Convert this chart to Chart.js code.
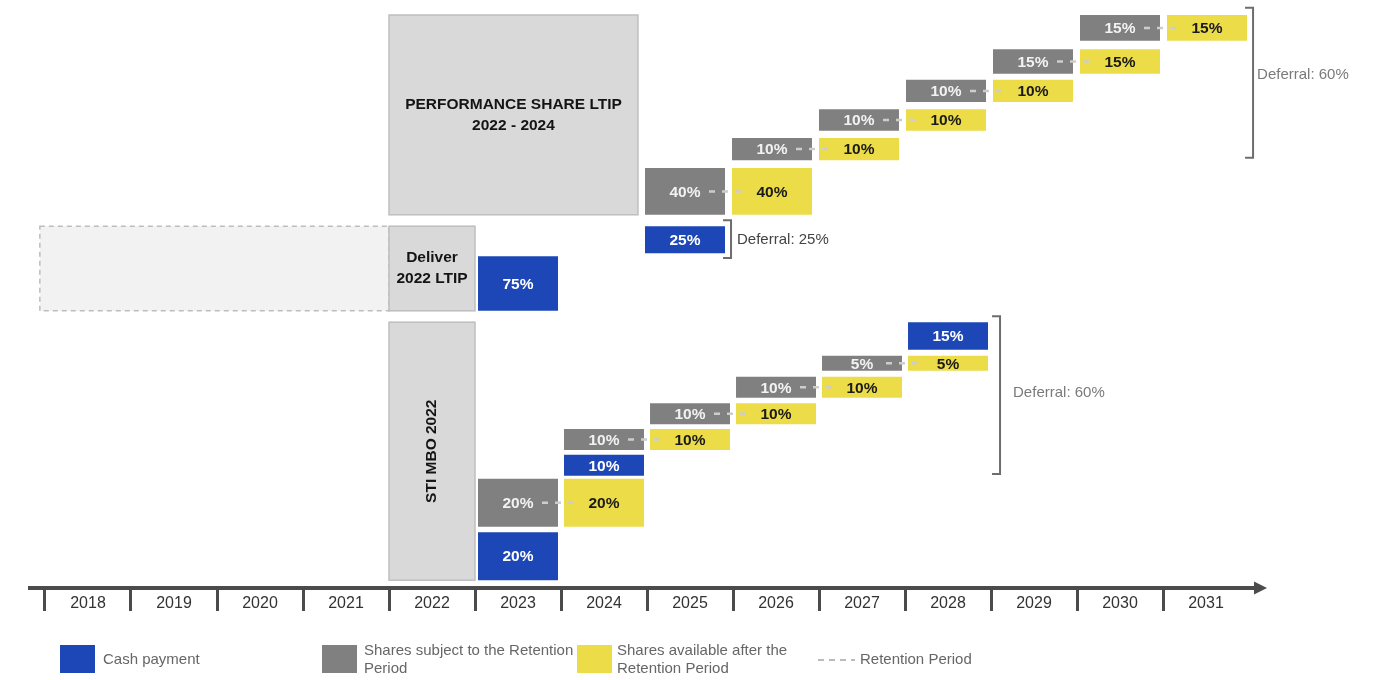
<!DOCTYPE html>
<html>

<head>
    <title>LTIP and STI deferral timeline</title>
    <script src="https://cdn.jsdelivr.net/npm/chart.js"></script>
    <style>
        body {
            margin: 0;
            background: #ffffff;
        }

        #wrap {
            width: 1379px;
            height: 680px;
        }
    </style>
</head>

<body>
    <div id="wrap"><canvas id="timeline"></canvas></div>

    <script>
        const years = [2018, 2019, 2020, 2021, 2022, 2023, 2024, 2025, 2026, 2027, 2028, 2029, 2030, 2031];

        // Performance Share LTIP 2022 - 2024: shares held one year, then available
        const ltipYears = [2025, 2026, 2027, 2028, 2029, 2030];
        const ltipRetained = [40, 10, 10, 10, 15, 15];
        const ltipAvailable = [40, 10, 10, 10, 15, 15];
        const ltipCashYears = [2025];
        const ltipCash = [25];

        // delivery of the 2022 LTIP
        const deliverCashYears = [2023];
        const deliverCash = [75];

        // STI MBO 2022
        const stiYears = [2023, 2024, 2025, 2026, 2027];
        const stiRetained = [20, 10, 10, 10, 5];
        const stiAvailable = [20, 10, 10, 10, 5];
        const stiCashYears = [2023, 2024, 2028];
        const stiCash = [20, 10, 15];

        const deferralLabels = ['Deferral: 60%', 'Deferral: 25%', 'Deferral: 60%'];

        // vertical layout of the boxes (diagram units, 0 = timeline)
        const ltipRows = [[62.2, 70], [71.3, 75], [76.2, 79.8], [81, 84.7], [85.7, 89.8], [91.2, 95.5]];
        const ltipCashRows = [[55.8, 60.3]];
        const deliverRows = [[46.2, 55.3]];
        const stiRows = [[10.2, 18.2], [23, 26.5], [27.3, 30.8], [31.7, 35.2], [36.2, 38.7]];
        const stiCashRows = [[1.3, 9.3], [18.7, 22.2], [39.7, 44.3]];

        const blue = '#1d47b6';
        const grey = '#808080';
        const yellow = '#ebdc48';
        const FONT = "'Liberation Sans', Arial, sans-serif";
        Chart.defaults.font.family = FONT;

        // one box per year column, the available shares sit one column later
        function boxes(ys, rows, shift) {
            return ys.map((y, i) => ({ x: y + 0.5 + shift, y: rows[i] }));
        }

        const programs = [
            { text: ['PERFORMANCE SHARE LTIP', '2022 - 2024'], from: 2022, to: 2024.895, rows: [62.2, 95.5] },
            { text: ['Deliver', '2022 LTIP'], from: 2022, to: 2023, rows: [46.2, 60.3] },
            { text: ['STI MBO 2022'], from: 2022, to: 2023, rows: [1.3, 44.3], vertical: true }
        ];
        const pastLtip = { from: 2017.94, to: 2022, rows: [46.2, 60.3] };

        const brackets = [
            { x: 2032.047, rows: [71.7, 96.7], labelAt: 85.5, gap: 4, color: '#7a7a7a' },
            { x: 2025.977, rows: [55, 61.3], labelAt: 58, gap: 6, color: '#444444' },
            { x: 2029.105, rows: [19, 45.3], labelAt: 32.5, gap: 13, color: '#7a7a7a' }
        ];

        // retained / available dataset pairs joined by the retention period line
        const pairs = [[1, 2], [4, 5]];

        function rectFor(sx, sy, from, to, rows) {
            const x0 = sx.getPixelForValue(from), x1 = sx.getPixelForValue(to);
            const y0 = sy.getPixelForValue(rows[1]), y1 = sy.getPixelForValue(rows[0]);
            return [x0, y0, x1 - x0, y1 - y0];
        }

        const diagram = {
            id: 'diagram',
            beforeDatasetsDraw(chart) {
                const ctx = chart.ctx, sx = chart.scales.x, sy = chart.scales.y;
                ctx.save();

                // earlier LTIP cycle, dashed
                let r = rectFor(sx, sy, pastLtip.from, pastLtip.to, pastLtip.rows);
                ctx.fillStyle = '#f2f2f2';
                ctx.fillRect(...r);
                ctx.setLineDash([5, 4]);
                ctx.strokeStyle = '#bdbdbd';
                ctx.lineWidth = 1.5;
                ctx.strokeRect(...r);
                ctx.setLineDash([]);

                programs.forEach(p => {
                    r = rectFor(sx, sy, p.from, p.to, p.rows);
                    ctx.fillStyle = '#d9d9d9';
                    ctx.fillRect(...r);
                    ctx.strokeStyle = '#bfbfbf';
                    ctx.lineWidth = 1.5;
                    ctx.strokeRect(...r);
                    const cx = r[0] + r[2] / 2, cy = r[1] + r[3] / 2;
                    ctx.fillStyle = '#141414';
                    ctx.font = 'bold 15.5px ' + FONT;
                    ctx.textAlign = 'center';
                    ctx.textBaseline = 'middle';
                    if (p.vertical) {
                        ctx.save();
                        ctx.translate(cx, cy);
                        ctx.rotate(-Math.PI / 2);
                        ctx.fillText(p.text[0], 0, 0);
                        ctx.restore();
                    } else {
                        p.text.forEach((t, i) => ctx.fillText(t, cx, cy + (i - (p.text.length - 1) / 2) * 21));
                    }
                });
                ctx.restore();
            },
            afterDatasetsDraw(chart) {
                const ctx = chart.ctx, sx = chart.scales.x, sy = chart.scales.y;
                const ds = chart.data.datasets;
                ctx.save();

                // retention period connectors
                ctx.strokeStyle = '#cdcdcd';
                ctx.lineWidth = 2.5;
                ctx.setLineDash([6, 7]);
                pairs.forEach(([gi, ai]) => {
                    const gMeta = chart.getDatasetMeta(gi).data, aMeta = chart.getDatasetMeta(ai).data;
                    gMeta.forEach((g, i) => {
                        const a = aMeta[i];
                        const y = (g.y + g.base) / 2;
                        ctx.beginPath();
                        ctx.moveTo(g.x + 24, y);
                        ctx.lineTo(a.x - 24, y);
                        ctx.stroke();
                    });
                });
                ctx.setLineDash([]);

                // percentages
                ctx.font = 'bold 15.5px ' + FONT;
                ctx.textAlign = 'center';
                ctx.textBaseline = 'middle';
                ds.forEach((d, di) => {
                    chart.getDatasetMeta(di).data.forEach((el, i) => {
                        ctx.fillStyle = d.textColor;
                        ctx.fillText(d.values[i] + '%', el.x, (el.y + el.base) / 2 + 1);
                    });
                });

                // deferral brackets
                ctx.font = '15px ' + FONT;
                ctx.textAlign = 'left';
                brackets.forEach((b, i) => {
                    const x = sx.getPixelForValue(b.x);
                    const yt = sy.getPixelForValue(b.rows[1]), yb = sy.getPixelForValue(b.rows[0]);
                    ctx.strokeStyle = '#6d6d6d';
                    ctx.lineWidth = 2;
                    ctx.beginPath();
                    ctx.moveTo(x - 8, yt);
                    ctx.lineTo(x, yt);
                    ctx.lineTo(x, yb);
                    ctx.lineTo(x - 8, yb);
                    ctx.stroke();
                    ctx.fillStyle = b.color;
                    ctx.fillText(deferralLabels[i], x + b.gap, sy.getPixelForValue(b.labelAt));
                });

                // arrow head at the end of the timeline
                const ay = sy.getPixelForValue(0);
                const ax = chart.chartArea.right;
                ctx.fillStyle = '#4b4b4b';
                ctx.beginPath();
                ctx.moveTo(ax - 8, ay - 6.5);
                ctx.lineTo(ax + 5, ay);
                ctx.lineTo(ax - 8, ay + 6.5);
                ctx.closePath();
                ctx.fill();

                // legend
                ctx.font = '15px ' + FONT;
                ctx.fillStyle = blue;
                ctx.fillRect(60, 645, 35, 28);
                ctx.fillStyle = grey;
                ctx.fillRect(322, 645, 35, 28);
                ctx.fillStyle = yellow;
                ctx.fillRect(577, 645, 35, 28);
                ctx.fillStyle = '#666666';
                ctx.fillText('Cash payment', 103, 660);
                ctx.fillText('Shares subject to the Retention', 364, 651);
                ctx.fillText('Period', 364, 669);
                ctx.fillText('Shares available after the', 617, 651);
                ctx.fillText('Retention Period', 617, 669);
                ctx.fillText('Retention Period', 860, 660);
                ctx.strokeStyle = '#bbbbbb';
                ctx.lineWidth = 2;
                ctx.setLineDash([6, 5]);
                ctx.beginPath();
                ctx.moveTo(818, 660);
                ctx.lineTo(855, 660);
                ctx.stroke();
                ctx.restore();
            }
        };

        new Chart(document.getElementById('timeline'), {
            type: 'bar',
            data: {
                datasets: [{
                    label: 'Cash payment',
                    data: [...boxes(deliverCashYears, deliverRows, 0), ...boxes(stiCashYears, stiCashRows, 0)],
                    values: [...deliverCash, ...stiCash],
                    backgroundColor: blue,
                    textColor: '#ffffff'
                }, {
                    label: 'Shares subject to the Retention Period',
                    data: boxes(stiYears, stiRows, 0),
                    values: stiRetained,
                    backgroundColor: grey,
                    textColor: '#f2f2f2'
                }, {
                    label: 'Shares available after the Retention Period',
                    data: boxes(stiYears, stiRows, 1),
                    values: stiAvailable,
                    backgroundColor: yellow,
                    textColor: '#1a1a1a'
                }, {
                    label: 'Cash payment (LTIP)',
                    xAxisID: 'xl',
                    data: boxes(ltipCashYears, ltipCashRows, 0),
                    values: ltipCash,
                    backgroundColor: blue,
                    textColor: '#ffffff'
                }, {
                    label: 'Shares subject to the Retention Period (LTIP)',
                    xAxisID: 'xl',
                    data: boxes(ltipYears, ltipRows, 0),
                    values: ltipRetained,
                    backgroundColor: grey,
                    textColor: '#f2f2f2'
                }, {
                    label: 'Shares available after the Retention Period (LTIP)',
                    xAxisID: 'xl',
                    data: boxes(ltipYears, ltipRows, 1),
                    values: ltipAvailable,
                    backgroundColor: yellow,
                    textColor: '#1a1a1a'
                }]
            },
            options: {
                responsive: true,
                maintainAspectRatio: false,
                animation: false,
                layout: {
                    padding: { left: 30, right: 117, top: 0, bottom: 0 }
                },
                datasets: {
                    bar: {
                        grouped: false,
                        categoryPercentage: 1,
                        barPercentage: 0.93,
                        maxBarThickness: 80,
                        borderWidth: 0
                    }
                },
                plugins: {
                    legend: { display: false },
                    tooltip: { enabled: false }
                },
                scales: {
                    x: {
                        type: 'linear',
                        min: 2017.8256,
                        max: 2032.151,
                        offset: false,
                        position: { y: 0 },
                        afterBuildTicks: s => {
                            s.ticks = s.ticks.filter(t => t.value >= years[0] && t.value <= years[years.length - 1]);
                        },
                        grid: {
                            display: true,
                            drawOnChartArea: false,
                            drawTicks: true,
                            tickLength: 21,
                            tickWidth: 3,
                            tickColor: '#4b4b4b',
                            offset: false
                        },
                        border: { display: true, width: 4, color: '#4b4b4b' },
                        ticks: {
                            stepSize: 1,
                            includeBounds: false,
                            autoSkip: false,
                            maxRotation: 0,
                            labelOffset: 43,
                            padding: -15,
                            color: '#333333',
                            font: { size: 16 },
                            callback: v => String(v)
                        }
                    },
                    // the LTIP boxes sit on a slightly wider year grid
                    xl: {
                        type: 'linear',
                        display: false,
                        min: 2017.9713,
                        max: 2032.1322,
                        offset: false,
                        ticks: { stepSize: 1 }
                    },
                    y: {
                        type: 'linear',
                        display: false,
                        min: -15.333,
                        max: 98
                    }
                }
            },
            plugins: [diagram]
        });
    </script>
</body>

</html>
